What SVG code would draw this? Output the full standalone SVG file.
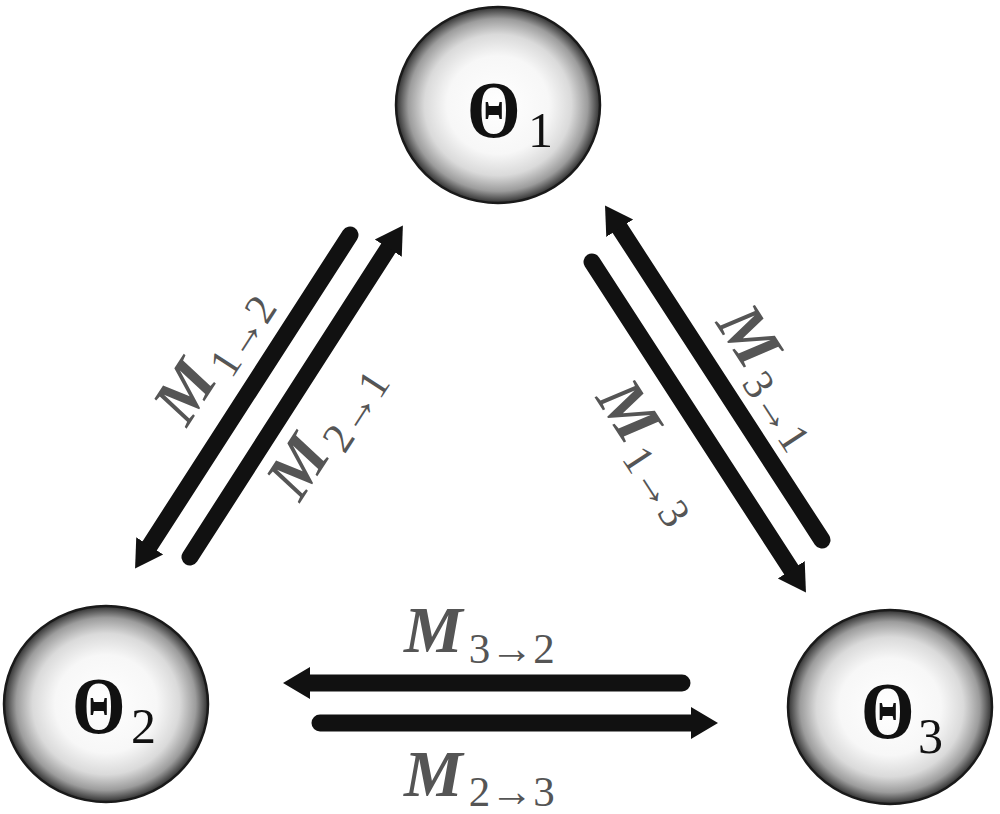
<svg xmlns="http://www.w3.org/2000/svg" width="1000" height="814" viewBox="0 0 1000 814">
  <defs>
    <radialGradient id="ball" cx="50%" cy="50%" r="50%">
      <stop offset="0" stop-color="#ffffff"/>
      <stop offset="0.5" stop-color="#f7f7f7"/>
      <stop offset="0.72" stop-color="#dadada"/>
      <stop offset="0.88" stop-color="#9c9c9c"/>
      <stop offset="1" stop-color="#303030"/>
    </radialGradient>
    <marker id="head" markerUnits="userSpaceOnUse" markerWidth="40" markerHeight="40" refX="5" refY="16" orient="auto" viewBox="0 0 40 32">
      <path d="M0,0 L27,16 L0,32 z" fill="#111"/>
    </marker>
  </defs>
  <style>
    .node ellipse { fill: url(#ball); stroke: #1a1a1a; stroke-width: 2.5; }
    .theta { font-family: "Liberation Serif", "DejaVu Serif", serif; fill: #111; }
    .big { font-size: 80px; font-weight: bold; }
    .sub { font-size: 50px; }
    .conn line { stroke: #111; stroke-width: 17; stroke-linecap: round; }
    .conn line.arr { marker-end: url(#head); }
    .lbl { font-family: "Liberation Serif", "DejaVu Serif", serif; fill: #555; }
    .lbl .m { font-size: 66px; font-style: italic; font-weight: bold; }
    .lbl .s { font-size: 43px; }
  </style>

  <g id="node1" class="node">
    <ellipse cx="498" cy="105" rx="102" ry="98"/>
    <text class="theta big" transform="translate(467,137) scale(0.86,1)">Θ</text>
    <text class="theta sub" x="528" y="147">1</text>
  </g>
  <g id="node2" class="node">
    <ellipse cx="106" cy="704" rx="102" ry="98"/>
    <text class="theta big" transform="translate(72,733) scale(0.86,1)">Θ</text>
    <text class="theta sub" x="131" y="743">2</text>
  </g>
  <g id="node3" class="node">
    <ellipse cx="890" cy="707" rx="102" ry="97"/>
    <text class="theta big" transform="translate(861,738) scale(0.86,1)">Θ</text>
    <text class="theta sub" x="918" y="753">3</text>
  </g>

  <g id="connectors" class="conn">
    <line class="arr" x1="350" y1="235" x2="147" y2="550"/>
    <line class="arr" x1="190" y1="557" x2="391" y2="244"/>
    <line class="arr" x1="822" y1="540" x2="617" y2="224"/>
    <line class="arr" x1="592" y1="262" x2="794" y2="574"/>
    <line class="arr" x1="682" y1="683" x2="305" y2="683"/>
    <line class="arr" x1="320" y1="723" x2="696" y2="723"/>
  </g>

  <g id="labels">
    <text class="lbl" transform="translate(187,428) rotate(-57)"><tspan class="m">M</tspan><tspan class="s" dx="6" dy="11">1→2</tspan></text>
    <text class="lbl" transform="translate(300,503) rotate(-57)"><tspan class="m">M</tspan><tspan class="s" dx="6" dy="11">2→1</tspan></text>
    <text class="lbl" transform="translate(715,323) rotate(57)"><tspan class="m">M</tspan><tspan class="s" dx="6" dy="11">3→1</tspan></text>
    <text class="lbl" transform="translate(595,398) rotate(57)"><tspan class="m">M</tspan><tspan class="s" dx="6" dy="11">1→3</tspan></text>
    <text class="lbl" transform="translate(404,652)"><tspan class="m">M</tspan><tspan class="s" dx="6" dy="11">3→2</tspan></text>
    <text class="lbl" transform="translate(404,796)"><tspan class="m">M</tspan><tspan class="s" dx="6" dy="10">2→3</tspan></text>
  </g>
</svg>
